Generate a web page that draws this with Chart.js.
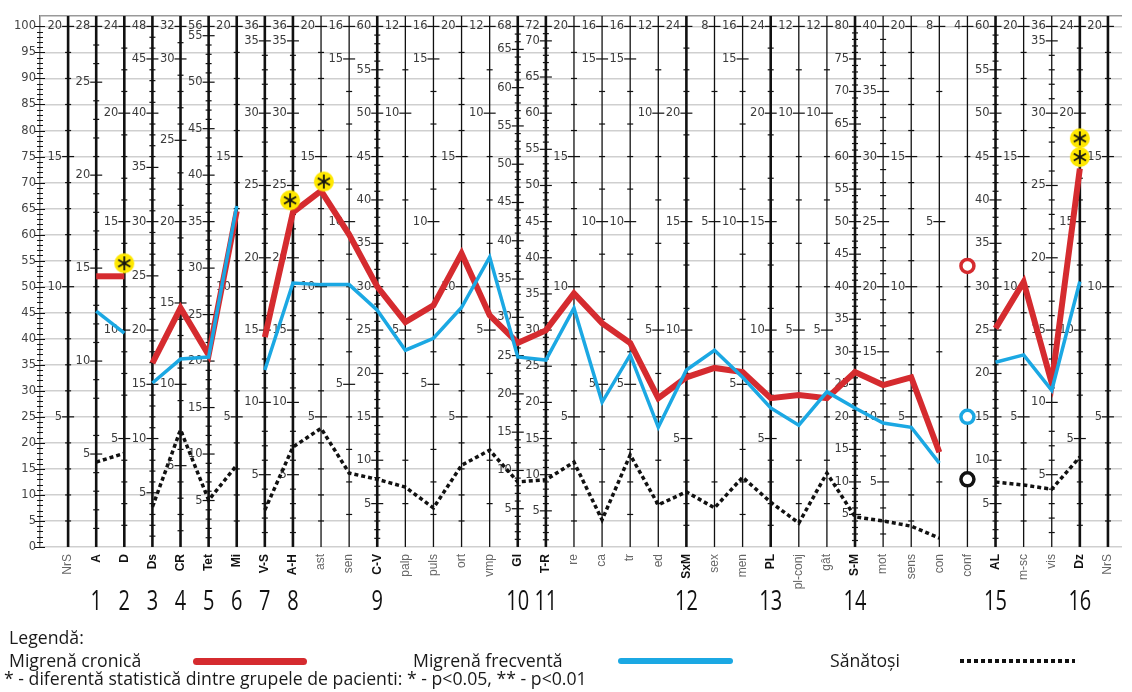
<!DOCTYPE html>
<html>
<head>
<meta charset="utf-8">
<script src="https://cdn.jsdelivr.net/npm/chart.js@4.4.0/dist/chart.umd.min.js"></script>
<style>
  body { margin: 0; background: #fff; }
  #wrap { position: relative; width: 1132px; height: 692px; overflow: hidden; }
  canvas { position: absolute; left: 0; top: 0; }
  .leg { position: absolute; font-family: "Open Sans", sans-serif; font-size: 19px; color: #1a1a1a; white-space: nowrap; line-height: 1; transform: scaleX(0.93); transform-origin: left top; }
  .swatch { position: absolute; }
</style>
</head>
<body>
<div id="wrap">
  <canvas id="profile" width="1132" height="692"></canvas>
  <div class="leg" style="left:9px; top:628px">Legendă:</div>
  <div class="leg" style="left:9px; top:651px">Migrenă cronică</div>
  <div class="swatch" style="left:193px; top:658px; width:114px; height:7px; background:#d52b2f; border-radius:4px"></div>
  <div class="leg" style="left:413px; top:651px">Migrenă frecventă</div>
  <div class="swatch" style="left:618px; top:658px; width:115px; height:6px; background:#1ba8e3; border-radius:3px"></div>
  <div class="leg" style="left:830px; top:651px">Sănătoși</div>
  <div class="swatch" style="left:960px; top:659px; width:115px; height:4px; background:repeating-linear-gradient(90deg,#111 0 4px,transparent 4px 7px)"></div>
  <div class="leg" style="left:4px; top:669px">* - diferentă statistică dintre grupele de pacienti: * - p&lt;0.05, ** - p&lt;0.01</div>
</div>
<script>
// scale names along the profile
const scaleNames = ['NrS', 'A', 'D', 'Ds', 'CR', 'Tet', 'Mi', 'V-S', 'A-H', 'ast', 'sen', 'C-V', 'palp', 'puls', 'ort', 'vmp',
  'GI', 'T-R', 're', 'ca', 'tr', 'ed', 'SxM', 'sex', 'men', 'PL', 'pl-conj', 'gât', 'S-M', 'mot', 'sens', 'con', 'conf',
  'AL', 'm-sc', 'vis', 'Dz', 'NrS'];
const boldScales = ['A', 'D', 'Ds', 'CR', 'Tet', 'Mi', 'V-S', 'A-H', 'C-V', 'GI', 'T-R', 'SxM', 'PL', 'S-M', 'AL', 'Dz'];
// raw score at the top of each vertical axis
const rawMax = [20, 28, 24, 48, 32, 56, 20, 36, 36, 20, 16, 60, 12, 16, 20, 12, 68, 72, 20, 16, 16, 12, 24, 8, 16, 24, 12, 12,
  80, 40, 20, 8, 4, 60, 20, 36, 24, 20];
const rawLabelStep = 5;

// main axis (0-100) labels
const mainTicks = [0, 5, 10, 15, 20, 25, 30, 35, 40, 45, 50, 55, 60, 65, 70, 75, 80, 85, 90, 95, 100];

const chronicValues = [null, 52, 52, 35.3, 45.9, 36.9, 64.5, 40.3, 64.3, 68.4, 60, 50, 43.2, 46.4, 56.4, 44.5, 39.2, 41.6,
  48.7, 43, 39.2, 28.6, 32.6, 34.4, 33.6, 28.6, 29.2, 28.6, 33.6, 31.1, 32.6, 18.2, null, 42, 50.9, 31.5, 72.7, null];
const frequentValues = [null, 45.3, 41.1, 31.5, 36.1, 36.5, 65.5, 34, 50.7, 50.4, 50.4, 45.5, 37.8, 40.1, 46, 55.7, 36.5, 35.9,
  45.9, 27.8, 36.9, 23, 34, 37.8, 32.6, 26.7, 23.4, 29.8, 26.7, 23.8, 23, 16.1, null, 35.5, 36.9, 30.1, 51, null];
const healthyValues = [null, 16.3, 18, 7.7, 22.5, 9, 15.7, 7.1, 19.2, 22.8, 14.2, 13, 11.5, 7.5, 15.7, 18.6, 12.5, 12.9,
  16.3, 5.2, 17.7, 8.1, 10.6, 7.5, 13.4, 8.6, 4.6, 14.2, 5.8, 5, 4, 1.7, null, 12.5, 11.9, 11.1, 17.3, null];
// "conf" is a single item, shown as circles
const confIndex = 32;
const confValues = [54, 25, 13]; // chronic, frequent, healthy
// lines break after these indices
const breakAfter = [2, 6];

const starX = [2, 7.9, 9.1, 36, 36];
const starY = [54.5, 66.6, 70.2, 78.5, 74.9];

const groupLabels = ['1', '2', '3', '4', '5', '6', '7', '8', '9', '10', '11', '12', '13', '14', '15', '16'];
const groupAt = [1, 2, 3, 4, 5, 6, 7, 8, 11, 16, 17, 22, 25, 28, 33, 36];

const RED = '#d52b2f';
const BLUE = '#1ba8e3';
const BLACK = '#111';

const toPoints = (arr) => arr.map((v, i) => ({ x: i, y: v }));
const isThick = (i) => boldScales.includes(scaleNames[i]) || i === 0 || i === scaleNames.length - 1;

const starIcon = (() => {
  const c = document.createElement('canvas');
  c.width = 22; c.height = 22;
  const g = c.getContext('2d');
  g.fillStyle = '#ffe800';
  g.beginPath(); g.arc(11, 11, 10, 0, Math.PI * 2); g.fill();
  g.strokeStyle = '#111'; g.lineWidth = 1.8;
  for (let k = 0; k < 3; k++) {
    const a = Math.PI / 2 + k * Math.PI / 3;
    g.beginPath();
    g.moveTo(11 - 7 * Math.cos(a), 11 - 7 * Math.sin(a));
    g.lineTo(11 + 7 * Math.cos(a), 11 + 7 * Math.sin(a));
    g.stroke();
  }
  return c;
})();

const gapSegment = { borderColor: (ctx) => breakAfter.includes(ctx.p0DataIndex) ? 'rgba(0,0,0,0)' : undefined };

const profileAxes = {
  id: 'profileAxes',
  beforeDatasetsDraw(chart) {
    const { ctx, chartArea, scales: { x, y } } = chart;
    ctx.save();
    ctx.strokeStyle = '#111';
    // minor ticks on the main axis
    ctx.lineWidth = 1;
    for (let v = 0; v <= 100; v++) {
      const py = Math.round(y.getPixelForValue(v)) + 0.5;
      const len = v % 5 === 0 ? 5 : 3;
      ctx.beginPath();
      ctx.moveTo(chartArea.left - len, py);
      ctx.lineTo(chartArea.left + len, py);
      ctx.stroke();
    }
    ctx.font = '11.5px "DejaVu Sans"';
    ctx.textAlign = 'right';
    ctx.textBaseline = 'middle';
    scaleNames.forEach((name, i) => {
      const px = x.getPixelForValue(i);
      ctx.strokeStyle = '#111';
      ctx.lineWidth = isThick(i) ? 2.6 : 1.3;
      ctx.beginPath();
      ctx.moveTo(px, chartArea.top);
      ctx.lineTo(px, chartArea.bottom);
      ctx.stroke();
      const max = rawMax[i];
      ctx.lineWidth = 1.2;
      for (let r = 1; r <= max; r++) {
        const py = y.getPixelForValue(r / max * 100);
        const labeled = r % rawLabelStep === 0 || r === max;
        const len = labeled ? 6 : 3;
        ctx.beginPath();
        ctx.moveTo(px - len, py);
        ctx.lineTo(px + len, py);
        ctx.stroke();
        if (labeled) {
          ctx.fillStyle = '#3a3a3a';
          ctx.fillText(String(r), px - 6, py);
        }
      }
    });
    ctx.restore();
  },
  afterDraw(chart) {
    const { ctx, chartArea, scales: { x } } = chart;
    ctx.save();
    ctx.textBaseline = 'middle';
    scaleNames.forEach((name, i) => {
      const px = x.getPixelForValue(i);
      const bold = boldScales.includes(name);
      ctx.save();
      ctx.translate(px, chartArea.bottom + 7);
      ctx.rotate(-Math.PI / 2);
      ctx.textAlign = 'right';
      ctx.font = (bold ? 'bold ' : '') + '12px "Liberation Sans"';
      ctx.fillStyle = bold ? '#111' : '#666';
      ctx.fillText(name, 0, 0);
      ctx.restore();
    });
    // group numbers, condensed
    const squeeze = 0.74;
    ctx.font = '27px "Open Sans"';
    ctx.fillStyle = '#111';
    ctx.textAlign = 'center';
    ctx.textBaseline = 'alphabetic';
    ctx.scale(squeeze, 1);
    groupLabels.forEach((lbl, k) => {
      ctx.fillText(lbl, x.getPixelForValue(groupAt[k]) / squeeze, 610);
    });
    ctx.restore();
  }
};

new Chart(document.getElementById('profile'), {
  type: 'line',
  data: {
    datasets: [
      {
        label: 'Sănătoși',
        data: toPoints(healthyValues),
        borderColor: BLACK,
        borderWidth: 3.5,
        borderDash: [4, 3],
        pointRadius: 0,
        segment: gapSegment,
        order: 4,
      },
      {
        label: 'Migrenă cronică',
        data: toPoints(chronicValues),
        borderColor: RED,
        borderWidth: 6,
        pointRadius: 0,
        segment: gapSegment,
        order: 3,
      },
      {
        label: 'Migrenă frecventă',
        data: toPoints(frequentValues),
        borderColor: BLUE,
        borderWidth: 3.5,
        pointRadius: 0,
        segment: gapSegment,
        order: 2,
      },
      {
        label: 'conf',
        data: confValues.map((v) => ({ x: confIndex, y: v })),
        showLine: false,
        pointRadius: 6.5,
        pointBorderWidth: 3.5,
        pointBackgroundColor: '#fff',
        pointBorderColor: [RED, BLUE, BLACK],
        order: 1,
      },
      {
        label: 'p',
        data: starX.map((v, k) => ({ x: v, y: starY[k] })),
        showLine: false,
        pointStyle: starIcon,
        order: 0,
      },
    ],
  },
  options: {
    responsive: false,
    animation: false,
    devicePixelRatio: 1,
    layout: { padding: { top: 16, left: 0, right: 0, bottom: 0 } },
    plugins: { legend: { display: false }, tooltip: { enabled: false } },
    scales: {
      x: {
        type: 'linear',
        min: -1,
        max: 37.5,
        grid: { display: false },
        border: { display: false },
        ticks: { display: false },
        afterFit: (scale) => { scale.height = 145; },
      },
      y: {
        min: 0,
        max: 102,
        grid: {
          color: (c) => (c.tick && c.tick.value === 102 ? '#999' : '#cfcfcf'),
          lineWidth: 1.5,
          drawTicks: false,
        },
        border: { display: true, color: '#777', width: 1.5 },
        afterBuildTicks: (scale) => {
          scale.ticks = mainTicks.map((v) => ({ value: v })).concat([{ value: 102 }]);
        },
        ticks: {
          padding: 4,
          color: '#444',
          font: { family: 'DejaVu Sans', size: 11.5 },
          callback: (v) => (v <= 100 ? v : ''),
        },
        afterFit: (scale) => { scale.width = 40; },
      },
    },
  },
  plugins: [profileAxes],
});
</script>
</body>
</html>
